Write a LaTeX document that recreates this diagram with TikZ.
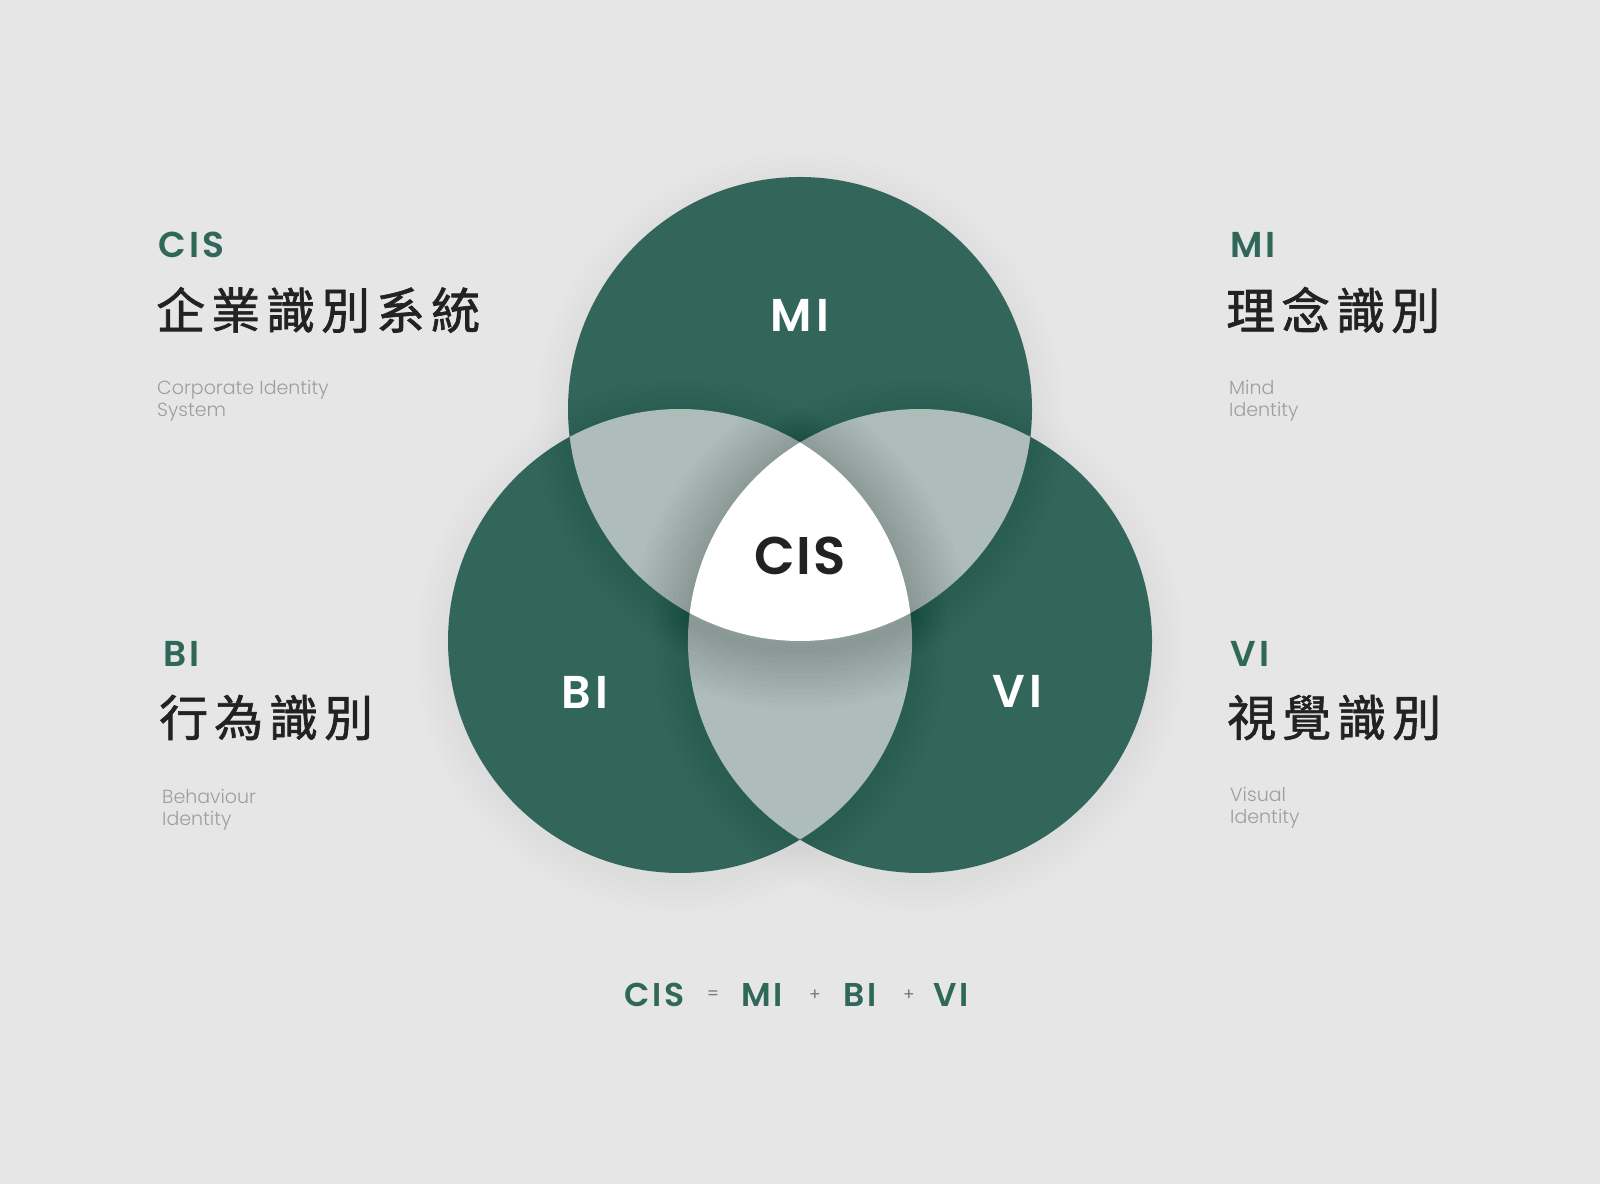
\documentclass[tikz,border=0pt]{standalone}
\usepackage{fontspec}
\newfontfamily\popsemi{Poppins SemiBold}[LetterSpace=9]
\newfontfamily\popsemiw{Poppins SemiBold}[LetterSpace=4]
\newfontfamily\poplight{Poppins Light}
\newfontfamily\popreg{Poppins}
\newfontfamily\cjkfont{Noto Sans CJK TC}[FakeBold=1.3]
\definecolor{bgc}{RGB}{230,230,230}
\definecolor{greenc}{RGB}{51,102,90}
\definecolor{lensc}{RGB}{174,189,185}
\definecolor{labgreen}{RGB}{47,104,88}
\definecolor{darkt}{RGB}{34,34,34}
\definecolor{grayt}{RGB}{158,158,158}
\definecolor{opgray}{RGB}{120,120,120}
\newcommand\cjksp{\hspace{6pt}}
\def\lensAB{(569.68,747.09) arc[start angle=186.91, end angle=298.39, radius=232] arc[start angle=6.91, end angle=118.39, radius=232] -- cycle}
\def\lensAC{(689.68,570.91) arc[start angle=241.61, end angle=353.09, radius=232] arc[start angle=61.61, end angle=173.09, radius=232] -- cycle}
\def\lensBC{(800,344.44) arc[start angle=-58.86, end angle=58.86, radius=232] arc[start angle=121.14, end angle=238.86, radius=232] -- cycle}
\def\whiteP{(800,741.56) arc[start angle=58.86, end angle=6.91, radius=232] arc[start angle=298.39, end angle=241.61, radius=232] arc[start angle=173.09, end angle=121.14, radius=232] -- cycle}
\tikzset{
  lab/.style={font=\popsemi\fontsize{36}{36}\selectfont, text=labgreen, inner sep=0pt, anchor=base west},
  cjkt/.style={font=\cjkfont\fontsize{49}{49}\selectfont, text=darkt, inner sep=0pt, anchor=west},
  subt/.style={font=\poplight\fontsize{19}{19}\selectfont, text=grayt, inner sep=0pt, anchor=base west},
  inlab/.style={font=\popsemi\fontsize{46}{46}\selectfont, text=white, inner sep=0pt, anchor=base},
  formt/.style={font=\popsemi\fontsize{33}{33}\selectfont, text=labgreen, inner sep=0pt, anchor=base west},
  opt/.style={font=\popreg\fontsize{17}{17}\selectfont, text=opgray, inner sep=0pt, anchor=center},
  shadowline/.style={draw=black, line join=round, line width=#1},
}
\begin{document}
\begin{tikzpicture}[x=1pt,y=1pt]
\useasboundingbox (0,0) rectangle (1600,1184);
\fill[bgc] (0,0) rectangle (1600,1184);
\coordinate (cA) at (800,775);
\coordinate (cB) at (680,543);
\coordinate (cC) at (920,543);
% outer soft shadow
\foreach \d in {4,8,...,36}{
  \fill[black, opacity=0.0035] ([yshift=-8pt]cA) circle[radius=230+\d];
  \fill[black, opacity=0.0035] ([yshift=-8pt]cB) circle[radius=230+\d];
  \fill[black, opacity=0.0035] ([yshift=-8pt]cC) circle[radius=230+\d];
}
% green circles
\fill[greenc] (cA) circle[radius=232];
\fill[greenc] (cB) circle[radius=232];
\fill[greenc] (cC) circle[radius=232];
% lens shadows onto green
\begin{scope}
  \clip (cA) circle[radius=232] (cB) circle[radius=232] (cC) circle[radius=232];
  \foreach \d in {4,8,...,36}{
    \draw[shadowline=2*\d, opacity=0.007, shift={(0,-5)}] \lensAB;
    \draw[shadowline=2*\d, opacity=0.007, shift={(0,-5)}] \lensAC;
    \draw[shadowline=2*\d, opacity=0.007, shift={(0,-5)}] \lensBC;
  }
\end{scope}
% lenses
\fill[lensc] \lensAB;
\fill[lensc] \lensAC;
\fill[lensc] \lensBC;
% white region shadow
\begin{scope}
  \clip \lensAB \lensAC \lensBC;
  \foreach \d in {5,10,...,60}{
    \draw[shadowline=2*\d, opacity=0.017, shift={(0,-8)}] \whiteP;
  }
\end{scope}
\fill[white] \whiteP;
% circle labels
\node[inlab] (mi) at (800,852) {MI};
\node[inlab] (bi) at (585,475) {BI};
\node[inlab] (vi) at (1017,476) {VI};
\node[inlab, text=darkt, font=\popsemiw\fontsize{53}{53}\selectfont] (cis) at (800,609) {CIS};
% side texts
\node[lab] (l1) at (158,926) {CIS};
\node[cjkt] (c1) at (156,874) {企\cjksp 業\cjksp 識\cjksp 別\cjksp 系\cjksp 統};
\node[subt] (s1a) at (157,789) {Corporate Identity};
\node[subt] (s1b) at (157,767) {System};

\node[lab] (l2) at (1230,926) {MI};
\node[cjkt] (c2) at (1226,874) {理\cjksp 念\cjksp 識\cjksp 別};
\node[subt] (s2a) at (1229,789) {Mind};
\node[subt] (s2b) at (1229,767) {Identity};

\node[lab] (l3) at (163,517) {BI};
\node[cjkt] (c3) at (159,466.5) {行\cjksp 為\cjksp 識\cjksp 別};
\node[subt] (s3a) at (162,381) {Behaviour};
\node[subt] (s3b) at (162,359) {Identity};

\node[lab] (l4) at (1230,517) {VI};
\node[cjkt] (c4) at (1227,466.5) {視\cjksp 覺\cjksp 識\cjksp 別};
\node[subt] (s4a) at (1230,382) {Visual};
\node[subt] (s4b) at (1230,360) {Identity};
% formula
\node[formt] (f1) at (624,178) {CIS};
\node[opt] (f2) at (713,189) {=};
\node[formt] (f3) at (741,178) {MI};
\node[opt] (f4) at (815,189) {+};
\node[formt] (f5) at (843,178) {BI};
\node[opt] (f6) at (909,189) {+};
\node[formt] (f7) at (933,178) {VI};
\end{tikzpicture}
\end{document}
